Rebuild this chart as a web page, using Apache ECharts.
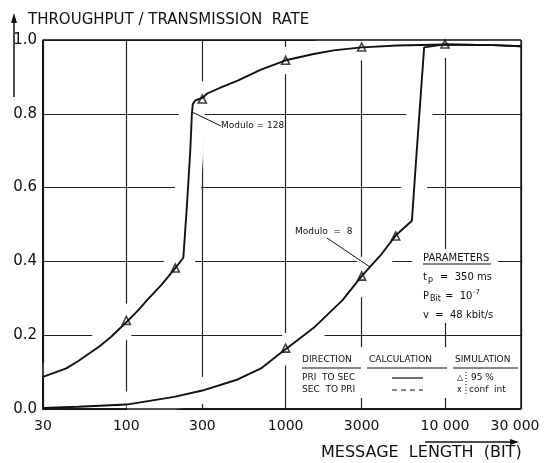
<!DOCTYPE html>
<html>
<head>
<meta charset="utf-8">
<script src="https://cdn.jsdelivr.net/npm/echarts@6/dist/echarts.min.js"></script>
<style>
  html, body { margin: 0; padding: 0; background: #fff; }
  #chart { width: 545px; height: 463px; }
</style>
</head>
<body>
<div id="chart"></div>
<script>
  // message length ticks (bit)
  var xTicks = [30, 100, 300, 1000, 3000, 10000, 30000];
  var yTicks = [0, 0.2, 0.4, 0.6, 0.8, 1.0];

  // Modulo = 128, calculation
  var mod128 = [
    [30, 0.087], [42, 0.11], [50, 0.13], [68, 0.17], [80, 0.195], [100, 0.235],
    [119, 0.268], [135, 0.295], [165, 0.335], [203, 0.382], [228, 0.41],
    [240, 0.55], [252, 0.70], [258, 0.80], [261, 0.825], [270, 0.836],
    [300, 0.843], [322, 0.855], [400, 0.873], [500, 0.89], [700, 0.92],
    [1000, 0.945], [1500, 0.962], [2000, 0.972], [3000, 0.98], [5000, 0.985],
    [10000, 0.988], [20000, 0.986], [30000, 0.983]
  ];
  // Modulo = 8, calculation
  var mod8 = [
    [30, 0.003], [50, 0.006], [100, 0.012], [200, 0.033], [300, 0.05],
    [500, 0.08], [700, 0.11], [930, 0.152], [1000, 0.162], [1500, 0.22],
    [2275, 0.295], [3000, 0.36], [4000, 0.42], [4900, 0.47], [6200, 0.51],
    [6650, 0.70], [7400, 0.98], [10000, 0.988], [20000, 0.986], [30000, 0.983]
  ];
  // simulation points (95 % conf int)
  var sim128 = [[100, 0.24], [203, 0.382], [300, 0.84], [1000, 0.945], [3000, 0.981], [10000, 0.989]];
  var sim8 = [[1000, 0.165], [3000, 0.36], [4900, 0.469]];

  var font = 'DejaVu Sans';
  var chart = echarts.init(document.getElementById('chart'));

  function txt(x, y, s, size, align) {
    return {
      type: 'text', x: x, y: y, z: 20, silent: true,
      style: { text: s, fill: '#111', fontFamily: font, fontSize: size, align: align || 'left', verticalAlign: 'middle' }
    };
  }
  function ln(x1, y1, x2, y2, w, dash) {
    return {
      type: 'line', z: 20, silent: true,
      shape: { x1: x1, y1: y1, x2: x2, y2: y2 },
      style: { stroke: '#111', lineWidth: w || 1, lineDash: dash || null }
    };
  }
  function blank(x, y, w, h) {
    return { type: 'rect', z: 15, silent: true, shape: { x: x, y: y, width: w, height: h }, style: { fill: '#fff' } };
  }
  // white band under a curve, so grid lines break where the curve crosses
  function halo(data) {
    return { type: 'line', data: data, showSymbol: false, silent: true, z: 1,
      lineStyle: { color: '#fff', width: 26 } };
  }

  var option = {
    backgroundColor: '#fff',
    animation: false,
    grid: { left: 43, right: 24, top: 40, bottom: 54 },
    xAxis: {
      type: 'log', logBase: 10, min: 30, max: 30000,
      axisLine: { show: true, lineStyle: { color: '#111', width: 1.5 } },
      axisTick: { show: false, customValues: xTicks },
      splitLine: { show: true, lineStyle: { color: '#222', width: 1.2 } },
      axisLabel: {
        customValues: xTicks, margin: 10, color: '#111', fontFamily: font, fontSize: 14,
        formatter: function (v) {
          if (v >= 30000) return '{r|' + (v / 1000) + ' 000}';
          return v >= 10000 ? (v / 1000) + ' 000' : String(v);
        },
        rich: { r: { fontFamily: font, fontSize: 14, color: '#111', padding: [0, 12, 0, 0] } }
      }
    },
    yAxis: {
      type: 'value', min: 0, max: 1, interval: 0.2,
      axisLine: { show: true, lineStyle: { color: '#111', width: 1.5 } },
      axisTick: { show: false },
      splitLine: { show: true, lineStyle: { color: '#222', width: 1.2 } },
      axisLabel: {
        margin: 6, color: '#111', fontFamily: font, fontSize: 15,
        formatter: function (v) { return v.toFixed(1); }
      }
    },
    series: [
      halo(mod128),
      halo(mod8.slice(2)),
      { name: 'Modulo = 128', type: 'line', data: mod128, showSymbol: false, smooth: false,
        lineStyle: { color: '#111', width: 1.9 } },
      { name: 'Modulo = 8', type: 'line', data: mod8, showSymbol: false, smooth: false,
        lineStyle: { color: '#111', width: 1.9 } },
      { name: 'sim 128', type: 'scatter', data: sim128, symbol: 'triangle', symbolSize: 8,
        itemStyle: { color: '#fff', borderColor: '#111', borderWidth: 1.6 } },
      { name: 'sim 8', type: 'scatter', data: sim8, symbol: 'triangle', symbolSize: 8,
        itemStyle: { color: '#fff', borderColor: '#111', borderWidth: 1.6 } }
    ],
    graphic: [
      // frame drawn again over the white bands
      ln(43, 40, 521, 40, 1.4),
      ln(521, 40, 521, 409, 1.4),
      ln(43, 40, 43, 409, 1.6),
      ln(43, 409, 521, 409, 1.6),
      // y axis title + arrow
      txt(28, 20, 'THROUGHPUT / TRANSMISSION  RATE', 15),
      ln(14, 97, 14, 20, 1.5),
      { type: 'polygon', z: 20, silent: true, shape: { points: [[11, 23], [17, 23], [14, 13]] }, style: { fill: '#111' } },
      // x axis title + arrow
      txt(321, 453, 'MESSAGE  LENGTH  (BIT)', 16),
      ln(425, 442, 511, 442, 1.5),
      { type: 'polygon', z: 20, silent: true, shape: { points: [[510, 439], [510, 445], [519, 442]] }, style: { fill: '#111' } },
      // curve labels
      ln(192, 112, 221, 126, 1),
      txt(221, 126, 'Modulo = 128', 9),
      ln(327, 238, 370, 267, 1),
      txt(295, 232, 'Modulo  =  8', 9),
      // parameters
      blank(412, 249, 86, 74),
      txt(423, 258, 'PARAMETERS', 10),
      ln(423, 264, 491, 264, 1),
      txt(423, 277, 't', 10),
      txt(428, 280, 'p', 8),
      txt(440, 277, '=  350 ms', 10),
      txt(423, 296, 'P', 10),
      txt(430, 299, 'Bit', 8),
      txt(445, 296, '=  10', 10),
      txt(473, 292, '-7', 7),
      txt(423, 315, 'v  =  48 kbit/s', 10),
      // direction / calculation / simulation table
      blank(298, 347, 221, 51),
      txt(302, 360, 'DIRECTION', 9),
      txt(369, 360, 'CALCULATION', 9),
      txt(455, 360, 'SIMULATION', 9),
      ln(302, 368, 361, 368, 1),
      ln(367, 368, 447, 368, 1),
      ln(453, 368, 518, 368, 1),
      txt(302, 378, 'PRI  TO SEC', 9),
      txt(302, 390, 'SEC  TO PRI', 9),
      ln(392, 378, 423, 378, 1.2),
      ln(392, 390, 423, 390, 1.2, [5, 4]),
      txt(457, 378, '\u25B3', 8),
      txt(457, 390, 'x', 8),
      ln(466, 372, 466, 395, 1, [1, 2]),
      txt(471, 378, '95 %', 9),
      txt(469, 390, 'conf  int', 9)
    ]
  };
  chart.setOption(option);
</script>
</body>
</html>
